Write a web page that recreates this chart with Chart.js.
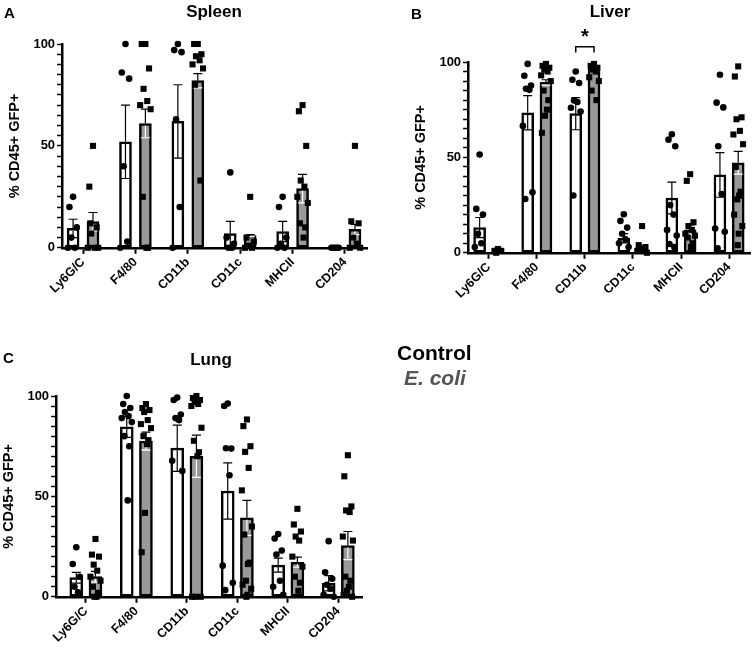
<!DOCTYPE html>
<html>
<head>
<meta charset="utf-8">
<script src="https://cdn.jsdelivr.net/npm/chart.js@4.4.0/dist/chart.umd.min.js"></script>
<style>
  body { margin: 0; background: #fff; font-family: "Liberation Sans", Arial, sans-serif; }
  #page { position: relative; width: 755px; height: 658px; }
  .box { position: absolute; }
  .lbl { position: absolute; font-weight: bold; color: #000; white-space: nowrap; }
  .ttl { position: absolute; font-weight: bold; font-size: 17px; transform: translateX(-50%); white-space: nowrap; }
</style>
</head>
<body>
<div id="page">
  <div class="box" style="left:0;top:0;"><canvas id="spleen" width="380" height="297"></canvas></div>
  <div class="box" style="left:380px;top:0;"><canvas id="liver" width="375" height="302"></canvas></div>
  <div class="box" style="left:0;top:330px;"><canvas id="lung" width="375" height="316"></canvas></div>

  <div class="lbl" style="left:4px;top:4px;font-size:15px;">A</div>
  <div class="lbl" style="left:411px;top:5px;font-size:15px;">B</div>
  <div class="lbl" style="left:3px;top:349px;font-size:15px;">C</div>

  <div class="ttl" style="left:214px;top:2px;">Spleen</div>
  <div class="ttl" style="left:610px;top:2px;">Liver</div>
  <div class="ttl" style="left:211px;top:350px;">Lung</div>

  <div class="lbl" style="left:397px;top:341px;font-size:21px;">Control</div>
  <div class="lbl" style="left:404px;top:366px;font-size:21px;font-style:italic;color:#555;">E. coli</div>
</div>

<script>
const categories = ['Ly6G/C', 'F4/80', 'CD11b', 'CD11c', 'MHCII', 'CD204'];
const yTickLabels = [0, 50, 100];

// Spleen
const spleenControlMean = [9.5, 52, 62, 7, 8, 0.5];
const spleenControlSem = [4.5, 18, 18, 6, 5, 0.3];
const spleenEcoliMean = [12.8, 61, 82, 6, 29, 9];
const spleenEcoliSem = [4.5, 7, 3.5, 0.5, 7, 2.5];
const spleenControlPts = [
  [25, 20, 10, 5, 0, 0],
  [100, 86, 83, 40, 3, 0],
  [100, 97, 96, 63, 20, 0],
  [37, 5, 2, 0, 0],
  [25, 20, 5, 2, 0, 0],
  [0, 0, 0, 0, 0]
];
const spleenEcoliPts = [
  [50, 30, 10, 7, 0, 0, 0, 12],
  [100, 100, 88, 78, 72, 70, 68, 25, 0, 0],
  [100, 100, 95, 94, 92, 90, 88, 80, 33],
  [25, 5, 3, 1, 0, 0],
  [70, 67, 50, 33, 30, 25, 22, 12, 10, 5],
  [50, 13, 12, 5, 2, 0, 0]
];

// Liver
const liverControlMean = [13.2, 73.4, 72.9, 7.6, 28.7, 40.8];
const liverControlSem = [5.3, 9, 8.4, 2.4, 8.3, 11.7];
const liverEcoliMean = [1.8, 89.3, 96.5, 2.6, 12, 47.2];
const liverEcoliSem = [0.5, 1.4, 1.2, 0.9, 2.6, 6];
const liverControlPts = [
  [51.5, 23, 20, 10, 5, 3],
  [99, 92.8, 87.7, 86, 85.4, 66.5, 31.7, 28.2],
  [95, 90.7, 89, 79.8, 79, 76, 74, 30],
  [20.2, 16.7, 13.2, 10, 7, 5, 3],
  [62.1, 59.3, 55.8, 25, 20, 12, 9, 4.6, 3],
  [93.3, 78.7, 76.2, 55.8, 30.8, 12.7, 11, 2.3]
];
const liverEcoliPts = [
  [2, 1, 1, 0],
  [99, 98, 97, 96, 95, 93, 90, 85, 80, 75, 71.8, 62.9],
  [99, 98, 97, 96, 95, 92, 90, 85, 80],
  [14, 4, 3, 2, 1, 1, 0],
  [41.2, 37.7, 16, 14, 12, 10, 9, 8, 5, 3],
  [97.7, 92.4, 71, 70, 63.9, 62, 56.9, 45, 32, 30, 28, 20, 14, 10, 4]
];
const liverSignif = { category: 'CD11b', y: 108, text: '*' };

// Lung
const lungControlMean = [9.5, 84.7, 74, 52.7, 15.8, 6.7];
const lungControlSem = [2.7, 5.3, 11.5, 14, 3.5, 3.8];
const lungEcoliMean = [10, 77.5, 70, 39.3, 17.2, 25.5];
const lungEcoliSem = [2.7, 4.5, 10.5, 8.7, 2.5, 7];
const lungControlPts = [
  [24.7, 16.3, 10, 5, 2.2],
  [100, 96, 94, 92, 90, 89, 87, 80, 75, 48],
  [99.2, 98, 90.8, 89, 88, 67.7, 62.7],
  [96.3, 95, 73.8, 74, 60.5, 15.5, 7, 3.3],
  [31.3, 29, 23, 21, 8, 5, 1],
  [27.7, 12.2, 9, 6, 4, 1, 0]
];
const lungEcoliPts = [
  [28.8, 21, 20, 16, 13, 10, 8, 5, 2, 0, 0],
  [96, 94, 93, 92, 88, 86, 84, 80, 78, 76, 41.8, 22.2],
  [100, 99, 98, 97, 96, 95, 84.2, 77.7, 72, 70, 0, 0, 0],
  [88.3, 85, 75, 72.2, 64.2, 53, 35, 31, 17, 16.3, 8, 6, 4, 1, 0],
  [43.8, 36, 32.5, 30, 28, 20, 15, 10, 7, 3],
  [70.5, 60, 45, 43, 42.2, 30, 28, 10, 8, 5, 3, 1, 0]
];

// group offset of each bar from its category centre (category units)
const SHIFT = 0.19;
const jitter = [0, -0.07, 0.07, -0.035, 0.035, -0.1, 0.1, -0.05, 0.05, 0.02, -0.02, -0.085, 0.085, 0.01, -0.01];

function barPoints(means, shift) {
  return means.map((m, i) => ({ x: i + shift, y: m }));
}

function scatterPoints(groups, shift) {
  const out = [];
  groups.forEach((vals, i) => {
    vals.forEach((v, j) => out.push({ x: i + shift + jitter[j % jitter.length], y: v }));
  });
  return out;
}

const errorBars = {
  id: 'errorBars',
  afterDatasetDraw(chart, args) {
    const ds = chart.data.datasets[args.index];
    if (!ds.sem) return;
    const y = chart.scales.y;
    const ctx = chart.ctx;
    ctx.save();
    ctx.lineWidth = 1.2;
    args.meta.data.forEach((bar, i) => {
      const m = args.meta.controller.getParsed(i).y, s = ds.sem[i];
      const top = y.getPixelForValue(m + s);
      const mid = y.getPixelForValue(m);
      const bot = y.getPixelForValue(Math.max(0, m - s));
      ctx.strokeStyle = '#000';
      ctx.beginPath();
      ctx.moveTo(bar.x, mid);
      ctx.lineTo(bar.x, top);
      ctx.moveTo(bar.x - 4.5, top);
      ctx.lineTo(bar.x + 4.5, top);
      ctx.stroke();
      ctx.strokeStyle = ds.innerErrColor;
      ctx.beginPath();
      ctx.moveTo(bar.x, mid + 2);
      ctx.lineTo(bar.x, bot);
      ctx.moveTo(bar.x - 4.5, bot);
      ctx.lineTo(bar.x + 4.5, bot);
      ctx.stroke();
    });
    ctx.restore();
  }
};

const signifBracket = {
  id: 'signifBracket',
  afterDatasetsDraw(chart, args, opts) {
    if (!opts || !opts.category) return;
    const idx = categories.indexOf(opts.category);
    const metas = chart.getSortedVisibleDatasetMetas().filter(m => m.type === 'bar');
    const xs = metas.map(m => m.data[idx].x).sort((a, b) => a - b);
    const y = chart.scales.y;
    const yTop = y.getPixelForValue(opts.y);
    const yLeg = y.getPixelForValue(opts.y - 3);
    const ctx = chart.ctx;
    ctx.save();
    ctx.strokeStyle = '#000';
    ctx.lineWidth = 1.5;
    ctx.beginPath();
    ctx.moveTo(xs[0], yLeg);
    ctx.lineTo(xs[0], yTop);
    ctx.lineTo(xs[xs.length - 1], yTop);
    ctx.lineTo(xs[xs.length - 1], yLeg);
    ctx.stroke();
    ctx.fillStyle = '#000';
    ctx.font = 'bold 20px "Liberation Sans", Arial, sans-serif';
    ctx.textAlign = 'center';
    ctx.textBaseline = 'middle';
    ctx.fillText(opts.text, (xs[0] + xs[xs.length - 1]) / 2, y.getPixelForValue(opts.y + 5));
    ctx.restore();
  }
};

function makeChart(id, ctrlMean, ctrlSem, ecoliMean, ecoliSem, ctrlPts, ecoliPts, frame, signif) {
  const ctx = document.getElementById(id).getContext('2d');
  return new Chart(ctx, {
    type: 'bar',
    data: {
      datasets: [
        {
          type: 'scatter', label: 'Control points',
          data: scatterPoints(ctrlPts, -SHIFT),
          pointStyle: 'circle', pointRadius: 3.3, backgroundColor: '#000', borderWidth: 0, clip: false
        },
        {
          type: 'scatter', label: 'E. coli points',
          data: scatterPoints(ecoliPts, SHIFT),
          pointStyle: 'rect', pointRadius: 4.3, backgroundColor: '#000', borderWidth: 0, clip: false
        },
        {
          label: 'Control', data: barPoints(ctrlMean, -SHIFT), sem: ctrlSem, innerErrColor: '#000',
          backgroundColor: '#fff', borderColor: '#000', borderWidth: 2.5, borderSkipped: false,
          barThickness: frame.bar, grouped: false
        },
        {
          label: 'E. coli', data: barPoints(ecoliMean, SHIFT), sem: ecoliSem, innerErrColor: '#fff',
          backgroundColor: '#999', borderColor: '#000', borderWidth: 2.5, borderSkipped: false,
          barThickness: frame.bar, grouped: false
        }
      ]
    },
    options: {
      responsive: false,
      animation: false,
      layout: { padding: frame.padding },
      plugins: {
        legend: { display: false },
        tooltip: { enabled: false },
        signifBracket: signif || {}
      },
      scales: {
        x: {
          type: 'linear',
          min: frame.xMin, max: frame.xMax,
          offset: false,
          afterBuildTicks: axis => {
            axis.ticks = axis.ticks.filter(t => Number.isInteger(t.value) && t.value >= 0 && t.value < categories.length);
          },
          grid: { display: true, drawOnChartArea: false, offset: false, tickLength: 6, tickColor: '#000', tickWidth: 2 },
          border: { display: true, color: '#000', width: 2.5 },
          ticks: {
            stepSize: 1, autoSkip: false,
            color: '#000', maxRotation: 45, minRotation: 45, padding: 1,
            font: { family: '"Liberation Sans", Arial, sans-serif', weight: 'bold', size: 12.5 },
            callback: v => categories[v] !== undefined ? categories[v] : ''
          }
        },
        y: {
          min: 0, max: 100,
          grid: { display: true, drawOnChartArea: false, tickLength: 5, tickColor: '#000', tickWidth: 1.5 },
          border: { display: true, color: '#000', width: 2.5 },
          ticks: {
            stepSize: 5, autoSkip: false, color: '#000', padding: 2,
            font: { family: '"Liberation Sans", Arial, sans-serif', weight: 'bold', size: 13 },
            callback: v => yTickLabels.includes(v) ? v : ''
          },
          title: {
            display: true, text: '% CD45+ GFP+', color: '#000', padding: { top: 0, bottom: 8 },
            font: { family: '"Liberation Sans", Arial, sans-serif', weight: 'bold', size: 14.5 }
          }
        }
      }
    },
    plugins: [errorBars, signifBracket]
  });
}

makeChart('spleen', spleenControlMean, spleenControlSem, spleenEcoliMean, spleenEcoliSem,
  spleenControlPts, spleenEcoliPts,
  { xMin: -0.4, xMax: 5.42, bar: 12, padding: { left: 6, right: 13, top: 44, bottom: 0 } });
makeChart('liver', liverControlMean, liverControlSem, liverEcoliMean, liverEcoliSem,
  liverControlPts, liverEcoliPts,
  { xMin: -0.43, xMax: 5.45, bar: 12, padding: { left: 32, right: 3, top: 62, bottom: 0 } }, liverSignif);
makeChart('lung', lungControlMean, lungControlSem, lungEcoliMean, lungEcoliSem,
  lungControlPts, lungEcoliPts,
  { xMin: -0.59, xMax: 5.47, bar: 13, padding: { left: 0, right: 13, top: 66, bottom: 0 } });
</script>
</body>
</html>
